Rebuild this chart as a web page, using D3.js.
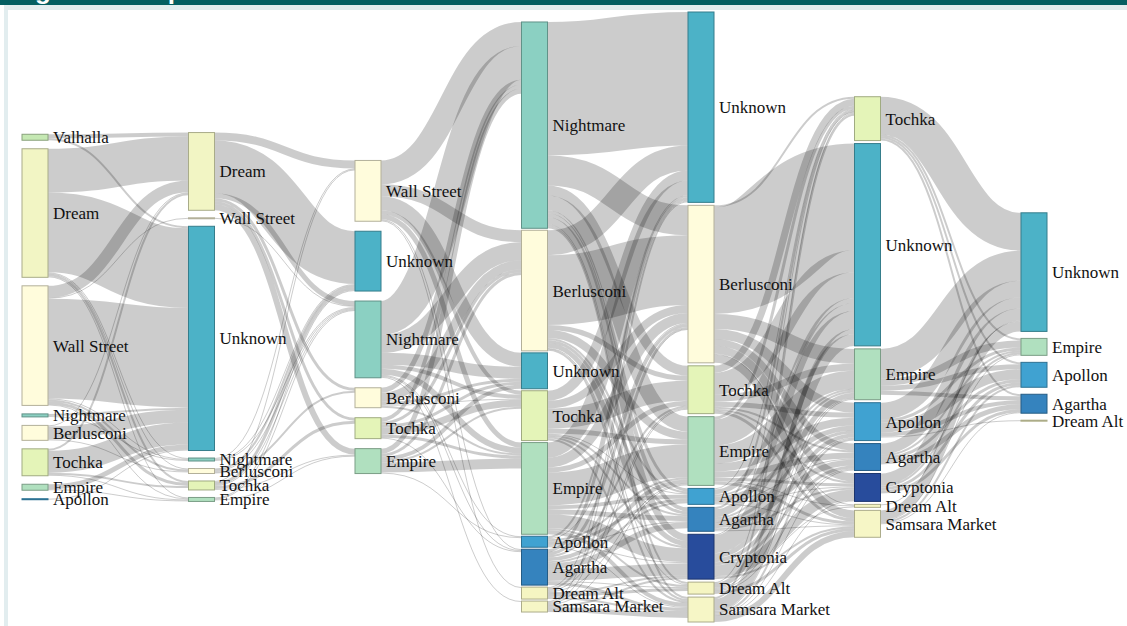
<!DOCTYPE html>
<html>
<head>
<meta charset="utf-8">
<script src="https://cdn.jsdelivr.net/npm/d3@7"></script>
<style>
  body { margin: 0; background: #fff; }
  svg { display: block; }
  .link { fill: none; stroke: #000; stroke-opacity: .2; }
  .node text { font-family: "Liberation Serif", "Times New Roman", serif; font-size: 17px; fill: #111; }
  .title { font-family: "Liberation Sans", Arial, sans-serif; font-weight: bold; font-size: 26px; fill: #fff; }
</style>
</head>
<body>
<svg id="chart"></svg>
<script>
// markets seen in each period, top to bottom
const stage0 = ["Valhalla", "Dream", "Wall Street", "Nightmare", "Berlusconi", "Tochka", "Empire", "Apollon"]
const stage1 = ["Dream", "Wall Street", "Unknown", "Nightmare", "Berlusconi", "Tochka", "Empire"]
const stage2 = ["Wall Street", "Unknown", "Nightmare", "Berlusconi", "Tochka", "Empire"]
const stage3 = ["Nightmare", "Berlusconi", "Unknown", "Tochka", "Empire", "Apollon", "Agartha", "Dream Alt", "Samsara Market"]
const stage4 = ["Unknown", "Berlusconi", "Tochka", "Empire", "Apollon", "Agartha", "Cryptonia", "Dream Alt", "Samsara Market"]
const stage5 = ["Tochka", "Unknown", "Empire", "Apollon", "Agartha", "Cryptonia", "Dream Alt", "Samsara Market"]
const stage6 = ["Unknown", "Empire", "Apollon", "Agartha", "Dream Alt"]

// vendor flows between two periods: [from, to, vendors]
const flows01 = [
  ["Valhalla", "Dream", 4], ["Valhalla", "Unknown", 2],
  ["Dream", "Dream", 44], ["Dream", "Unknown", 80], ["Dream", "Nightmare", 1], ["Dream", "Berlusconi", 1], ["Dream", "Tochka", 2], ["Dream", "Empire", 1],
  ["Wall Street", "Dream", 12], ["Wall Street", "Wall Street", 1], ["Wall Street", "Unknown", 100], ["Wall Street", "Nightmare", 1],
  ["Wall Street", "Berlusconi", 2], ["Wall Street", "Tochka", 3], ["Wall Street", "Empire", 1],
  ["Nightmare", "Unknown", 2], ["Nightmare", "Nightmare", 1],
  ["Berlusconi", "Dream", 1], ["Berlusconi", "Unknown", 13], ["Berlusconi", "Berlusconi", 1],
  ["Tochka", "Dream", 2], ["Tochka", "Unknown", 22], ["Tochka", "Tochka", 2], ["Tochka", "Empire", 1],
  ["Empire", "Unknown", 5], ["Empire", "Empire", 1],
  ["Apollon", "Unknown", 1]
]
const flows12 = [
  ["Dream", "Wall Street", 8], ["Dream", "Unknown", 53], ["Dream", "Nightmare", 5], ["Dream", "Berlusconi", 3], ["Dream", "Tochka", 3], ["Dream", "Empire", 6],
  ["Wall Street", "Nightmare", 1],
  ["Nightmare", "Wall Street", 1], ["Nightmare", "Unknown", 1], ["Nightmare", "Nightmare", 1],
  ["Berlusconi", "Unknown", 2], ["Berlusconi", "Nightmare", 1], ["Berlusconi", "Berlusconi", 2],
  ["Tochka", "Wall Street", 1], ["Tochka", "Unknown", 3], ["Tochka", "Nightmare", 1], ["Tochka", "Tochka", 3], ["Tochka", "Empire", 1],
  ["Empire", "Unknown", 1], ["Empire", "Nightmare", 1], ["Empire", "Empire", 1]
]
const flows23 = [
  ["Wall Street", "Nightmare", 24], ["Wall Street", "Berlusconi", 12], ["Wall Street", "Unknown", 14], ["Wall Street", "Tochka", 4],
  ["Wall Street", "Empire", 5], ["Wall Street", "Agartha", 1], ["Wall Street", "Dream Alt", 1],
  ["Nightmare", "Nightmare", 34], ["Nightmare", "Berlusconi", 18], ["Nightmare", "Unknown", 12], ["Nightmare", "Tochka", 4],
  ["Nightmare", "Empire", 6], ["Nightmare", "Apollon", 1], ["Nightmare", "Agartha", 1], ["Nightmare", "Samsara Market", 1],
  ["Berlusconi", "Nightmare", 5], ["Berlusconi", "Berlusconi", 9], ["Berlusconi", "Unknown", 3], ["Berlusconi", "Tochka", 1], ["Berlusconi", "Empire", 2],
  ["Tochka", "Nightmare", 4], ["Tochka", "Berlusconi", 3], ["Tochka", "Unknown", 3], ["Tochka", "Tochka", 7], ["Tochka", "Empire", 3], ["Tochka", "Agartha", 1],
  ["Empire", "Nightmare", 5], ["Empire", "Berlusconi", 3], ["Empire", "Unknown", 4], ["Empire", "Tochka", 2], ["Empire", "Empire", 10], ["Empire", "Apollon", 1]
]
const flows34 = [
  ["Nightmare", "Unknown", 134], ["Nightmare", "Berlusconi", 30], ["Nightmare", "Tochka", 10], ["Nightmare", "Empire", 15], ["Nightmare", "Apollon", 3],
  ["Nightmare", "Agartha", 4], ["Nightmare", "Cryptonia", 7], ["Nightmare", "Dream Alt", 2], ["Nightmare", "Samsara Market", 2],
  ["Berlusconi", "Unknown", 25], ["Berlusconi", "Berlusconi", 70], ["Berlusconi", "Tochka", 5], ["Berlusconi", "Empire", 8], ["Berlusconi", "Apollon", 2],
  ["Berlusconi", "Agartha", 3], ["Berlusconi", "Cryptonia", 5], ["Berlusconi", "Dream Alt", 1], ["Berlusconi", "Samsara Market", 2],
  ["Tochka", "Unknown", 10], ["Tochka", "Berlusconi", 8], ["Tochka", "Tochka", 20], ["Tochka", "Empire", 5], ["Tochka", "Apollon", 1],
  ["Tochka", "Agartha", 2], ["Tochka", "Cryptonia", 2], ["Tochka", "Samsara Market", 2],
  ["Empire", "Unknown", 15], ["Empire", "Berlusconi", 10], ["Empire", "Tochka", 5], ["Empire", "Empire", 33], ["Empire", "Apollon", 4],
  ["Empire", "Agartha", 5], ["Empire", "Cryptonia", 14], ["Empire", "Dream Alt", 2], ["Empire", "Samsara Market", 4],
  ["Apollon", "Unknown", 2], ["Apollon", "Berlusconi", 1], ["Apollon", "Empire", 2], ["Apollon", "Apollon", 3], ["Apollon", "Agartha", 1],
  ["Apollon", "Cryptonia", 1], ["Apollon", "Samsara Market", 1],
  ["Agartha", "Unknown", 3], ["Agartha", "Berlusconi", 3], ["Agartha", "Tochka", 2], ["Agartha", "Empire", 4], ["Agartha", "Apollon", 2],
  ["Agartha", "Agartha", 6], ["Agartha", "Cryptonia", 12], ["Agartha", "Dream Alt", 1], ["Agartha", "Samsara Market", 3],
  ["Dream Alt", "Unknown", 1], ["Dream Alt", "Berlusconi", 2], ["Dream Alt", "Tochka", 1], ["Dream Alt", "Empire", 1],
  ["Dream Alt", "Cryptonia", 2], ["Dream Alt", "Dream Alt", 3], ["Dream Alt", "Samsara Market", 2],
  ["Samsara Market", "Unknown", 1], ["Samsara Market", "Berlusconi", 1], ["Samsara Market", "Tochka", 1], ["Samsara Market", "Empire", 1],
  ["Samsara Market", "Cryptonia", 2], ["Samsara Market", "Samsara Market", 5]
]
const flows45 = [
  ["Berlusconi", "Tochka", 2], ["Berlusconi", "Unknown", 107], ["Berlusconi", "Empire", 15], ["Berlusconi", "Apollon", 10],
  ["Berlusconi", "Agartha", 7], ["Berlusconi", "Cryptonia", 8], ["Berlusconi", "Dream Alt", 1], ["Berlusconi", "Samsara Market", 8],
  ["Tochka", "Tochka", 7], ["Tochka", "Unknown", 22], ["Tochka", "Empire", 7], ["Tochka", "Apollon", 5],
  ["Tochka", "Agartha", 2], ["Tochka", "Cryptonia", 2], ["Tochka", "Samsara Market", 3],
  ["Empire", "Tochka", 3], ["Empire", "Unknown", 26], ["Empire", "Empire", 18], ["Empire", "Apollon", 8],
  ["Empire", "Agartha", 6], ["Empire", "Cryptonia", 3], ["Empire", "Dream Alt", 1], ["Empire", "Samsara Market", 3],
  ["Apollon", "Tochka", 1], ["Apollon", "Unknown", 5], ["Apollon", "Empire", 2], ["Apollon", "Apollon", 5],
  ["Apollon", "Agartha", 1], ["Apollon", "Cryptonia", 1], ["Apollon", "Samsara Market", 1],
  ["Agartha", "Tochka", 2], ["Agartha", "Unknown", 8], ["Agartha", "Empire", 2], ["Agartha", "Apollon", 3],
  ["Agartha", "Agartha", 6], ["Agartha", "Cryptonia", 2], ["Agartha", "Samsara Market", 1],
  ["Cryptonia", "Tochka", 1], ["Cryptonia", "Unknown", 18], ["Cryptonia", "Empire", 5], ["Cryptonia", "Apollon", 4],
  ["Cryptonia", "Agartha", 3], ["Cryptonia", "Cryptonia", 11], ["Cryptonia", "Dream Alt", 1], ["Cryptonia", "Samsara Market", 2],
  ["Dream Alt", "Tochka", 1], ["Dream Alt", "Unknown", 5], ["Dream Alt", "Empire", 1], ["Dream Alt", "Apollon", 1],
  ["Dream Alt", "Agartha", 1], ["Dream Alt", "Samsara Market", 3],
  ["Samsara Market", "Tochka", 2], ["Samsara Market", "Unknown", 12], ["Samsara Market", "Empire", 1], ["Samsara Market", "Apollon", 2],
  ["Samsara Market", "Agartha", 1], ["Samsara Market", "Cryptonia", 1], ["Samsara Market", "Samsara Market", 6]
]
const flows56 = [
  ["Tochka", "Unknown", 38], ["Tochka", "Empire", 2], ["Tochka", "Apollon", 2], ["Tochka", "Agartha", 2],
  ["Empire", "Unknown", 30], ["Empire", "Empire", 7], ["Empire", "Apollon", 5], ["Empire", "Agartha", 4],
  ["Apollon", "Unknown", 17], ["Apollon", "Empire", 3], ["Apollon", "Apollon", 10], ["Apollon", "Agartha", 4], ["Apollon", "Dream Alt", 1],
  ["Agartha", "Unknown", 11], ["Agartha", "Empire", 2], ["Agartha", "Apollon", 3], ["Agartha", "Agartha", 5],
  ["Cryptonia", "Unknown", 12], ["Cryptonia", "Empire", 2], ["Cryptonia", "Apollon", 3], ["Cryptonia", "Agartha", 3],
  ["Dream Alt", "Unknown", 1],
  ["Samsara Market", "Unknown", 10], ["Samsara Market", "Empire", 1], ["Samsara Market", "Apollon", 2], ["Samsara Market", "Agartha", 1]
]

const stages = [stage0, stage1, stage2, stage3, stage4, stage5, stage6]
const flows = [flows01, flows12, flows23, flows34, flows45, flows56]

const colors = {
  "Valhalla":       "#c5e8b3",
  "Dream":          "#f2f5c4",
  "Wall Street":    "#fffcdc",
  "Unknown":        "#4cb2c7",
  "Nightmare":      "#8bd0c2",
  "Berlusconi":     "#fffcdc",
  "Tochka":         "#e4f4b8",
  "Empire":         "#b0e0bf",
  "Apollon":        "#40a2d1",
  "Agartha":        "#3583be",
  "Cryptonia":      "#284c9c",
  "Dream Alt":      "#f5f5c2",
  "Samsara Market": "#f6f6c6"
}

const W = 1127, H = 626
const nodeWidth = 26
const yTop = 12, yBottom = 622
// gap between nodes, per period
const nodePadding = [8.5, 7.5, 10, 2, 3, 3, 7]

const x = d3.scaleLinear().domain([0, stages.length - 1]).range([22, W - 106])

// --- small sankey layout (d3 v7 has no sankey module) ---
const nodes = [], byKey = {}
stages.forEach((names, c) => names.forEach(name => {
  const n = { name, col: c, sourceLinks: [], targetLinks: [] }
  nodes.push(n)
  byKey[c + ":" + name] = n
}))

const links = []
flows.forEach((list, c) => list.forEach(([s, t, v]) => {
  const l = { source: byKey[c + ":" + s], target: byKey[(c + 1) + ":" + t], value: v }
  l.source.sourceLinks.push(l)
  l.target.targetLinks.push(l)
  links.push(l)
}))

nodes.forEach(n => {
  n.value = Math.max(d3.sum(n.sourceLinks, l => l.value), d3.sum(n.targetLinks, l => l.value))
})

const columns = stages.map((_, c) => nodes.filter(n => n.col === c))
const ky = d3.min(columns, (col, c) =>
  (yBottom - yTop - (col.length - 1) * nodePadding[c]) / d3.sum(col, n => n.value))
const size = d3.scaleLinear().domain([0, 1]).range([0, ky])

columns.forEach((col, c) => {
  const h = size(d3.sum(col, n => n.value)) + (col.length - 1) * nodePadding[c]
  let y = (yTop + yBottom - h) / 2
  col.forEach(n => {
    n.x0 = x(c)
    n.x1 = n.x0 + nodeWidth
    n.y0 = y
    n.y1 = y + size(n.value)
    y = n.y1 + nodePadding[c]
  })
})

links.forEach(l => l.width = size(l.value))

nodes.forEach(n => {
  n.sourceLinks.sort((a, b) => a.target.y0 - b.target.y0)
  n.targetLinks.sort((a, b) => a.source.y0 - b.source.y0)
  let y = n.y0
  n.sourceLinks.forEach(l => { l.y0 = y + l.width / 2; y += l.width })
  y = n.y0
  n.targetLinks.forEach(l => { l.y1 = y + l.width / 2; y += l.width })
})

// --- draw ---
const svg = d3.select("#chart").attr("width", W).attr("height", H)

// page frame
svg.append("rect").attr("width", W).attr("height", 5).attr("fill", "#045f62")
svg.append("rect").attr("x", 4).attr("y", 5).attr("width", W - 4).attr("height", 5).attr("fill", "#e2edef")
svg.append("rect").attr("x", 4).attr("y", 5).attr("width", 4).attr("height", H - 5).attr("fill", "#e2edef")

svg.append("clipPath").attr("id", "head")
  .append("rect").attr("width", W).attr("height", 5)
svg.append("text")
  .attr("class", "title")
  .attr("clip-path", "url(#head)")
  .attr("x", 6)
  .attr("y", -1.5)
  .text("Migration map")

const path = d3.linkHorizontal()
  .source(d => [d.source.x1, d.y0])
  .target(d => [d.target.x0, d.y1])

svg.append("g")
  .selectAll("path")
  .data(links)
  .enter().append("path")
  .attr("class", "link")
  .attr("d", path)
  .attr("stroke-width", d => Math.max(1, d.width))

const node = svg.append("g")
  .selectAll("g")
  .data(nodes)
  .enter().append("g")
  .attr("class", "node")

node.append("rect")
  .attr("x", d => d.x0)
  .attr("y", d => d.y0)
  .attr("width", nodeWidth)
  .attr("height", d => Math.max(1, d.y1 - d.y0))
  .attr("fill", d => colors[d.name])
  .attr("stroke", d => d3.rgb(colors[d.name]).darker(1))
  .attr("stroke-width", 1)

node.append("text")
  .attr("x", d => d.x1 + 5)
  .attr("y", d => (d.y0 + d.y1) / 2)
  .attr("dy", "0.35em")
  .attr("font-family", "'Liberation Serif', 'Times New Roman', serif")
  .text(d => d.name)
</script>
